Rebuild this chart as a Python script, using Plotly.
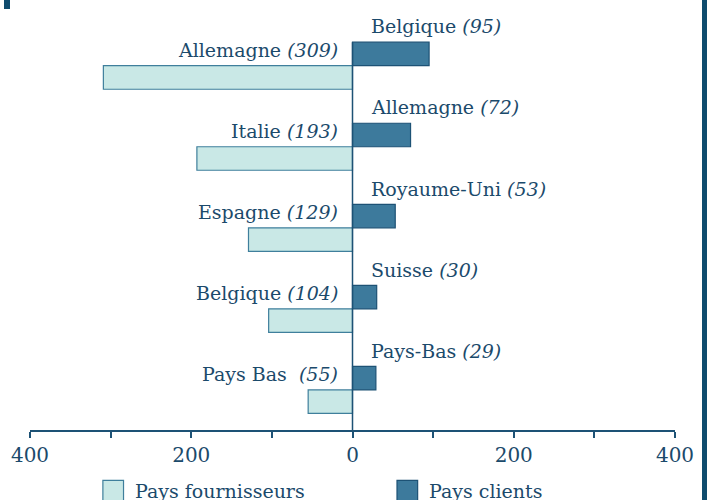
import plotly.graph_objects as go

# Data
fournisseurs = ["Allemagne", "Italie", "Espagne", "Belgique", "Pays Bas "]
fourn_vals = [309, 193, 129, 104, 55]
clients = ["Belgique", "Allemagne", "Royaume-Uni", "Suisse", "Pays-Bas"]
client_vals = [95, 72, 53, 30, 29]
tick_vals = [-400, -200, 0, 200, 400]
tick_text = ["400", "200", "0", "200", "400"]

TXT = "#1b4a6b"
FONT = "DejaVu Serif"
pos = list(range(len(fournisseurs)))
off = 0.29
bw = 0.29

fig = go.Figure()
fig.add_trace(go.Bar(
    y=pos, x=[-v for v in fourn_vals], orientation="h", width=bw,
    marker=dict(color="#c9e8e6", line=dict(color="#3f7f9c", width=1.2)),
    name="Pays fournisseurs", showlegend=False, hoverinfo="skip"))
fig.add_trace(go.Bar(
    y=[p - off for p in pos], x=client_vals, orientation="h", width=bw,
    marker=dict(color="#3d7a9c", line=dict(color="#1d5275", width=1.2)),
    name="Pays clients", showlegend=False, hoverinfo="skip"))

for p, n, v in zip(pos, fournisseurs, fourn_vals):
    fig.add_annotation(x=0, y=p - 0.34, xref="x", yref="y", xanchor="right", yanchor="middle",
                       xshift=-13, text=f"{n} <i>({v})</i>", showarrow=False,
                       font=dict(family=FONT, size=19, color=TXT))
for p, n, v in zip(pos, clients, client_vals):
    fig.add_annotation(x=0, y=p - off - 0.34, xref="x", yref="y", xanchor="left", yanchor="middle",
                       xshift=16, text=f"{n} <i>({v})</i>", showarrow=False,
                       font=dict(family=FONT, size=19, color=TXT))

# zero line
fig.add_shape(type="line", xref="x", yref="y", x0=0, x1=0, y0=-off - bw / 2, y1=4.35,
              line=dict(color="#1d5275", width=1.5), layer="above")

# legend (manual)
legend = [("Pays fournisseurs", "#c9e8e6", "#3f7f9c", 0.113),
          ("Pays clients", "#3d7a9c", "#1d5275", 0.569)]
for name, fill, line, x0 in legend:
    fig.add_shape(type="rect", xref="paper", yref="paper", x0=x0, x1=x0 + 0.032,
                  y0=-0.117, y1=-0.166, fillcolor=fill, line=dict(color=line, width=1.2))
    fig.add_annotation(xref="paper", yref="paper", x=x0 + 0.046, y=-0.142, xanchor="left",
                       yanchor="middle", text=name, showarrow=False,
                       font=dict(family=FONT, size=19, color=TXT))

# page decorations
fig.add_shape(type="rect", xref="paper", yref="paper", x0=(4 - 30) / 645, x1=(10 - 30) / 645,
              y0=1, y1=1 - 9 / 430, fillcolor="#0f4c6e", line=dict(width=0))
fig.add_shape(type="rect", xref="paper", yref="paper", x0=(702 - 30) / 645, x1=(712 - 30) / 645,
              y0=1.01, y1=-0.2, fillcolor="#0f4c6e", line=dict(width=0))

fig.update_layout(
    width=707, height=500, margin=dict(l=30, r=32, t=0, b=70),
    paper_bgcolor="white", plot_bgcolor="white", barmode="overlay",
    xaxis=dict(range=[-400, 400], tickvals=tick_vals, ticktext=tick_text,
               showgrid=False, zeroline=False, showline=True, linecolor="#1d5275", linewidth=1.5,
               ticks="outside", ticklen=6, tickcolor="#1d5275", tickwidth=1.5,
               minor=dict(tickvals=[-300, -100, 100, 300], ticks="outside", ticklen=6,
                          tickcolor="#1d5275", tickwidth=1.5),
               tickfont=dict(family=FONT, size=20, color=TXT)),
    yaxis=dict(range=[4.35, -0.956], visible=False, showgrid=False, zeroline=False),
)
fig.write_html("out.html", config={"displayModeBar": False},
               post_script="document.body.style.margin='0';")
